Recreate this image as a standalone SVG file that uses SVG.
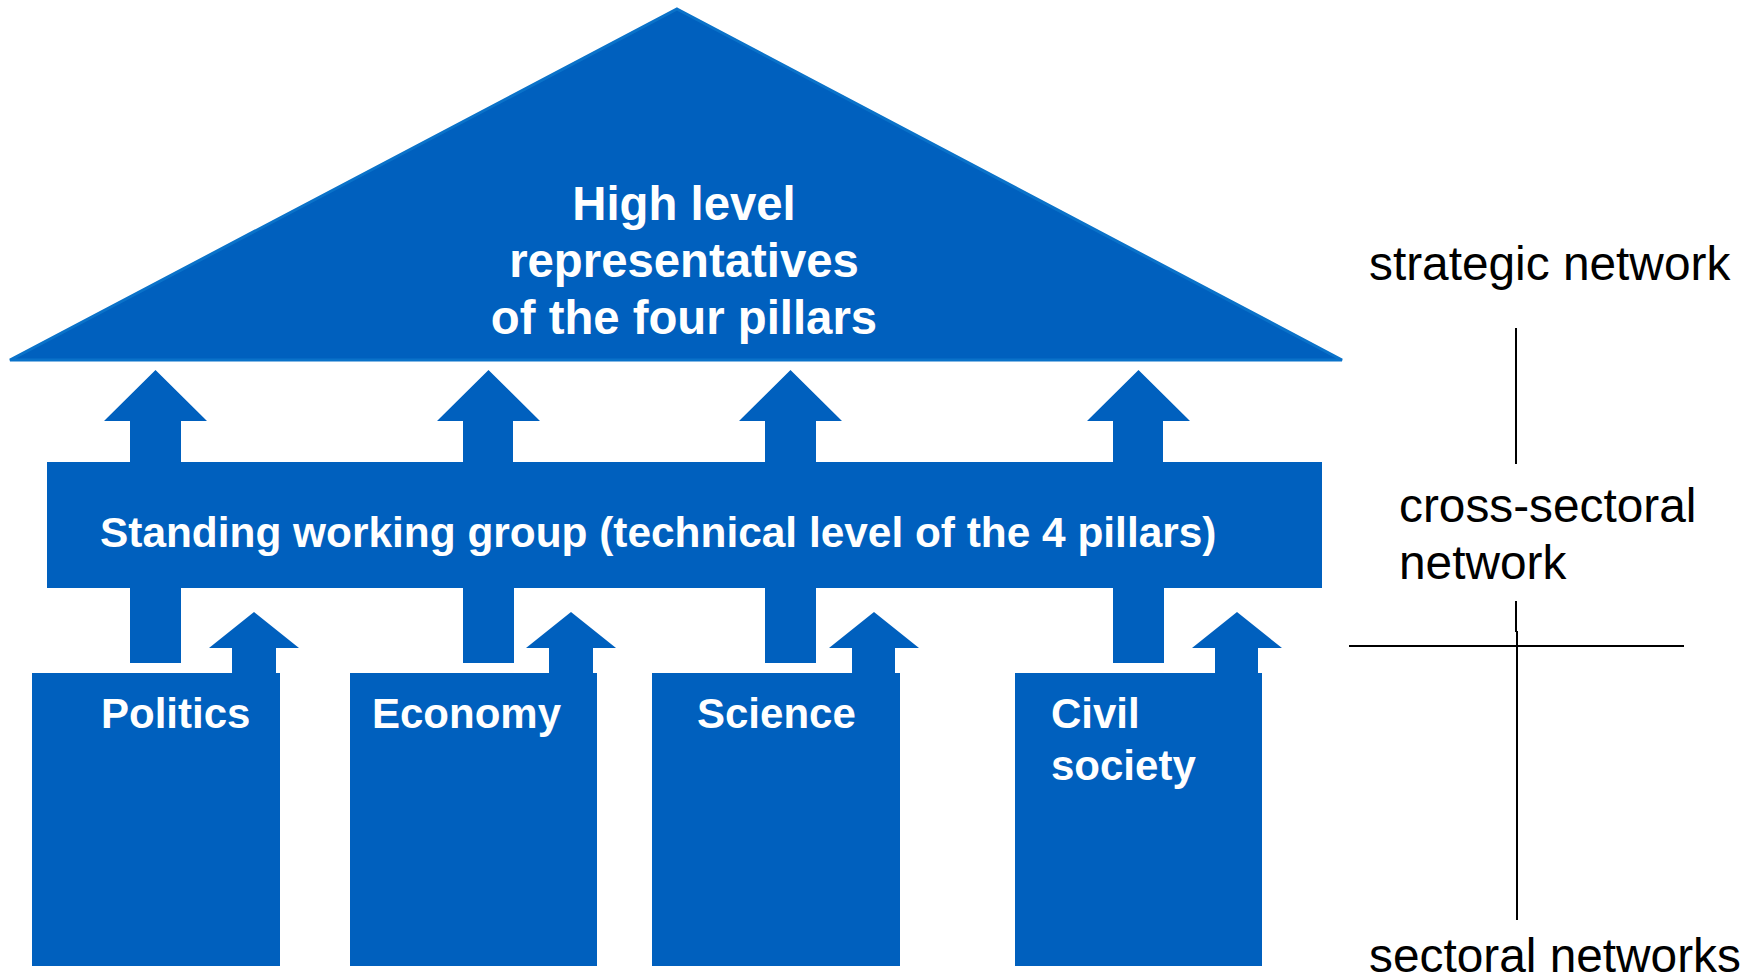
<svg xmlns="http://www.w3.org/2000/svg" width="1754" height="980" viewBox="0 0 1754 980">
<style>
.b{fill:#0060BE}
.w{fill:#fff;font-family:"Liberation Sans",Arial,sans-serif;font-weight:bold}
.k{fill:#000;font-family:"Liberation Sans",Arial,sans-serif;font-size:47.8px}
.ln{stroke:#000;stroke-width:2;fill:none}
</style>
<rect width="1754" height="980" fill="#fff"/>
<g id="connectors">
<polygon class="b" points="130,463 130,421 104,421 155.5,370 207,421 181,421 181,463"/>
<polygon class="b" points="463,463 463,421 437,421 488.5,370 540,421 513,421 513,463"/>
<polygon class="b" points="765,463 765,421 739,421 790.5,370 842,421 816,421 816,463"/>
<polygon class="b" points="1113,463 1113,421 1087,421 1138.5,370 1190,421 1163,421 1163,463"/>
<rect class="b" x="130" y="586" width="51" height="77"/>
<rect class="b" x="463" y="586" width="51" height="77"/>
<rect class="b" x="765" y="586" width="51" height="77"/>
<rect class="b" x="1113" y="586" width="51" height="77"/>
<polygon class="b" points="232,675 232,648 209,648 254,612 299,648 276,648 276,675"/>
<polygon class="b" points="549,675 549,648 526,648 571,612 616,648 593,648 593,675"/>
<polygon class="b" points="852,675 852,648 829,648 874,612 919,648 895,648 895,675"/>
<polygon class="b" points="1215,675 1215,648 1192,648 1237,612 1282,648 1258,648 1258,675"/>
</g>
<g id="high-level">
<polygon points="677,9 1342,360 10,360" fill="#0060BE" stroke="#0A72C9" stroke-width="3" stroke-linejoin="miter"/>
<text class="w" font-size="47.3" text-anchor="middle"><tspan x="684" y="220">High level</tspan><tspan x="684" y="277">representatives</tspan><tspan x="684" y="334">of the four pillars</tspan></text>
</g>
<g id="working-group">
<rect class="b" x="47" y="462" width="1275" height="126"/>
<text class="w" font-size="42.4" x="100" y="547">Standing working group (technical level of the 4 pillars)</text>
</g>
<g id="politics">
<rect class="b" x="32" y="673" width="248" height="293"/>
<text class="w" font-size="42" x="101" y="728">Politics</text>
</g>
<g id="economy">
<rect class="b" x="350" y="673" width="247" height="293"/>
<text class="w" font-size="42" x="372" y="728">Economy</text>
</g>
<g id="science">
<rect class="b" x="652" y="673" width="248" height="293"/>
<text class="w" font-size="42" x="697" y="728">Science</text>
</g>
<g id="civil-society">
<rect class="b" x="1015" y="673" width="247" height="293"/>
<text class="w" font-size="42"><tspan x="1051" y="728">Civil</tspan><tspan x="1051" y="780">society</tspan></text>
</g>
<g id="levels">
<text class="k" x="1369" y="280">strategic network</text>
<text class="k"><tspan x="1399" y="522">cross-sectoral</tspan><tspan x="1399" y="579">network</tspan></text>
<text class="k" x="1369" y="972">sectoral networks</text>
<line class="ln" x1="1516" y1="328" x2="1516" y2="464"/>
<line class="ln" x1="1516" y1="601" x2="1516" y2="632"/>
<line class="ln" x1="1517" y1="631" x2="1517" y2="920"/>
<line class="ln" x1="1349" y1="646" x2="1684" y2="646"/>
</g>
</svg>
